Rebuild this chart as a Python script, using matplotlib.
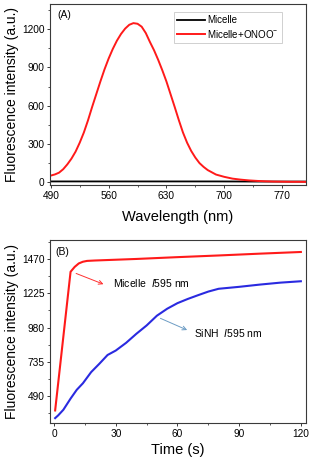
import numpy as np
import matplotlib
matplotlib.use("Agg")
import matplotlib.pyplot as plt
from matplotlib.ticker import MultipleLocator

plt.rcParams['font.family'] = ['Liberation Sans', 'DejaVu Sans']
plt.rcParams['mathtext.fontset'] = 'custom'
plt.rcParams['mathtext.rm'] = 'Liberation Sans'
plt.rcParams['mathtext.it'] = 'Liberation Sans:italic'

# panel A: emission spectra
wl = [490, 495, 500, 505, 510, 515, 520, 525, 530, 535, 540, 545, 550, 555,
      560, 565, 570, 575, 580, 585, 590, 595, 600, 605, 610, 615, 620, 625,
      630, 635, 640, 645, 650, 655, 660, 665, 670, 675, 680, 690, 700, 710,
      720, 730, 740, 750, 760, 770, 780, 790, 800]
onoo = [52, 61, 75, 102, 140, 185, 240, 310, 390, 485, 590, 690, 790, 885,
        970, 1045, 1110, 1163, 1205, 1235, 1248, 1243, 1220, 1170, 1100, 1035, 960, 878,
        790, 690, 590, 487, 390, 310, 245, 193, 150, 120, 95, 60, 42, 28,
        20, 14, 10, 7, 5, 4, 3, 3, 2]
wl_blank = [490, 540, 590, 640, 690, 740, 800]
blank = [6, 6, 6, 6, 6, 5, 5]

# panel B: kinetics at 595 nm
t_mic = [0.5, 8, 10, 12, 14, 16, 20, 40, 60, 80, 100, 120]
mic = [385, 1380, 1415, 1440, 1452, 1458, 1461, 1472, 1485, 1497, 1510, 1522]
t_sinh = [0.5, 2, 4.5, 8, 11, 14, 18, 22, 26, 30, 35, 40, 45, 50, 55, 60, 65,
          70, 75, 80, 90, 100, 110, 120]
sinh = [330, 350, 390, 470, 533, 580, 660, 720, 783, 815, 870, 935, 995, 1065,
        1115, 1155, 1185, 1212, 1238, 1258, 1272, 1288, 1302, 1312]

fig = plt.figure(figsize=(3.11, 4.62), dpi=100)
axA = fig.add_axes([50/311, 1-185/462, 256/311, 181/462])
axB = fig.add_axes([50/311, 1-423/462, 256/311, 183/462])

def style(ax):
    for s in ['top', 'right', 'left', 'bottom']:
        ax.spines[s].set_color('#3a3a3a')
        ax.spines[s].set_linewidth(0.8)
    ax.tick_params(which='major', direction='out', length=2.5, width=0.7,
                   labelsize=7.3, pad=1.5, colors='#3a3a3a', labelcolor='black')
    ax.tick_params(which='minor', direction='out', length=1.5, width=0.6,
                   colors='#3a3a3a')

axA.plot(wl_blank, blank, color='black', lw=1.3, label='Micelle')
axA.plot(wl, onoo, color='#ff1a1a', lw=1.4, label='Micelle+ONOO$^{-}$')
axA.set_xlim(489, 799)
axA.set_ylim(-22, 1398)
axA.xaxis.set_major_locator(MultipleLocator(70))
axA.xaxis.set_minor_locator(MultipleLocator(35))
axA.yaxis.set_major_locator(MultipleLocator(300))
axA.yaxis.set_minor_locator(MultipleLocator(150))
style(axA)
axA.set_xlabel('Wavelength (nm)', fontsize=10.5, va='center')
axA.set_ylabel('Fluorescence intensity (a.u.)', fontsize=10, va='center')
axA.xaxis.set_label_coords(0.5, -0.175)
axA.yaxis.set_label_coords(-0.148, 0.5)
axA.text(0.027, 0.94, '(A)', transform=axA.transAxes, fontsize=7.5,
         ha='left', va='center')
leg = axA.legend(loc='upper right', bbox_to_anchor=(0.927, 0.985), fontsize=7,
                 frameon=True, fancybox=False, edgecolor='#bbbbbb',
                 handlelength=2.8, handletextpad=0.3, borderpad=0.35,
                 labelspacing=0.3)
leg.get_frame().set_linewidth(0.6)

axB.plot(t_mic, mic, color='#ff1a1a', lw=1.5)
axB.plot(t_sinh, sinh, color='#2a2ae0', lw=1.5)
axB.set_xlim(-2, 122.5)
axB.set_ylim(295, 1608)
axB.xaxis.set_major_locator(MultipleLocator(30))
axB.xaxis.set_minor_locator(MultipleLocator(15))
axB.yaxis.set_major_locator(MultipleLocator(245))
axB.yaxis.set_minor_locator(MultipleLocator(122.5))
style(axB)
axB.set_xlabel('Time (s)', fontsize=10.5, va='center')
axB.set_ylabel('Fluorescence intensity (a.u.)', fontsize=10, va='center')
axB.xaxis.set_label_coords(0.5, -0.148)
axB.yaxis.set_label_coords(-0.148, 0.5)
axB.text(0.022, 0.936, '(B)', transform=axB.transAxes, fontsize=7.5,
         ha='left', va='center')

axB.annotate('', xy=(24, 1291), xytext=(10.7, 1368),
             arrowprops=dict(arrowstyle='->', color='#ff3030', lw=0.7,
                             mutation_scale=7, shrinkA=0, shrinkB=0))
axB.text(28.5, 1296, 'Micelle  $\\it{I}$595 nm', fontsize=7.5,
         ha='left', va='center')
axB.annotate('', xy=(64.7, 962), xytext=(51.7, 1046),
             arrowprops=dict(arrowstyle='->', color='#6c9cc4', lw=0.7,
                             mutation_scale=7, shrinkA=0, shrinkB=0))
axB.text(68, 938, 'SiNH  $\\it{I}$595 nm', fontsize=7.5,
         ha='left', va='center')

plt.savefig('out.png', dpi=100)
